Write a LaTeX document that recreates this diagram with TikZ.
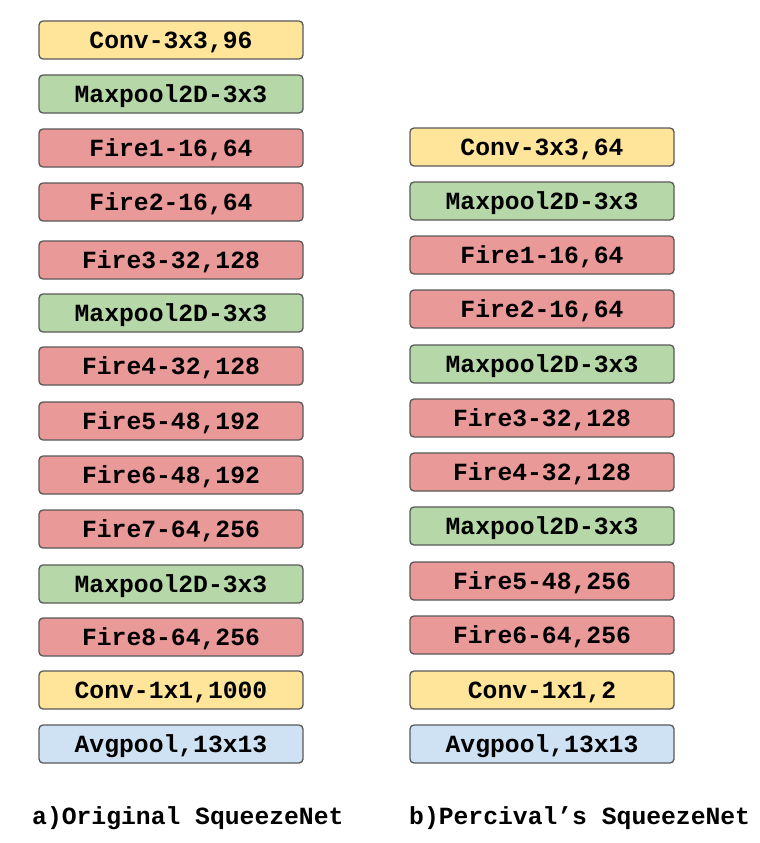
\documentclass[tikz,border=0pt]{standalone}
\usepackage{fontspec}
\setmonofont{Liberation Mono}
\definecolor{cyel}{HTML}{FFE599}
\definecolor{cgrn}{HTML}{B6D7A8}
\definecolor{cred}{HTML}{EA9999}
\definecolor{cblu}{HTML}{CFE2F3}
\definecolor{cstr}{HTML}{595959}
\begin{document}
\begin{tikzpicture}[x=1pt,y=-1pt,
  blk/.style={draw=cstr,line width=1.3pt,rounded corners=4pt,minimum width=264pt,minimum height=38pt,inner sep=0pt,text height=16.6pt,text depth=0pt,font=\fontsize{24.7}{26}\selectfont\ttfamily\bfseries},
  yel/.style={blk,fill=cyel},
  grn/.style={blk,fill=cgrn},
  red/.style={blk,fill=cred},
  blu/.style={blk,fill=cblu},
  captxt/.style={font=\fontsize{24.7}{26}\selectfont\ttfamily\bfseries,inner sep=0pt,anchor=base west}]
\useasboundingbox (0,0) rectangle (760,843);
% left column
\node[yel] (a1) at (171,40) {Conv-3x3,96};
\node[grn] (a2) at (171,94) {Maxpool2D-3x3};
\node[red] (a3) at (171,148) {Fire1-16,64};
\node[red] (a4) at (171,202) {Fire2-16,64};
\node[red] (a5) at (171,260) {Fire3-32,128};
\node[grn] (a6) at (171,313) {Maxpool2D-3x3};
\node[red] (a7) at (171,366) {Fire4-32,128};
\node[red] (a8) at (171,421) {Fire5-48,192};
\node[red] (a9) at (171,475) {Fire6-48,192};
\node[red] (a10) at (171,529) {Fire7-64,256};
\node[grn] (a11) at (171,584) {Maxpool2D-3x3};
\node[red] (a12) at (171,637) {Fire8-64,256};
\node[yel] (a13) at (171,690) {Conv-1x1,1000};
\node[blu] (a14) at (171,744) {Avgpool,13x13};
% right column
\node[yel] (b1) at (542,147) {Conv-3x3,64};
\node[grn] (b2) at (542,201) {Maxpool2D-3x3};
\node[red] (b3) at (542,255) {Fire1-16,64};
\node[red] (b4) at (542,309) {Fire2-16,64};
\node[grn] (b5) at (542,364) {Maxpool2D-3x3};
\node[red] (b6) at (542,418) {Fire3-32,128};
\node[red] (b7) at (542,472) {Fire4-32,128};
\node[grn] (b8) at (542,526) {Maxpool2D-3x3};
\node[red] (b9) at (542,581) {Fire5-48,256};
\node[red] (b10) at (542,635) {Fire6-64,256};
\node[yel] (b11) at (542,690) {Conv-1x1,2};
\node[blu] (b12) at (542,744) {Avgpool,13x13};
% captions
\node[captxt] (ca) at (32,824) {a)Original SqueezeNet};
\node[captxt] (cb) at (409,824) {b)Percival’s SqueezeNet};
\end{tikzpicture}
\end{document}
